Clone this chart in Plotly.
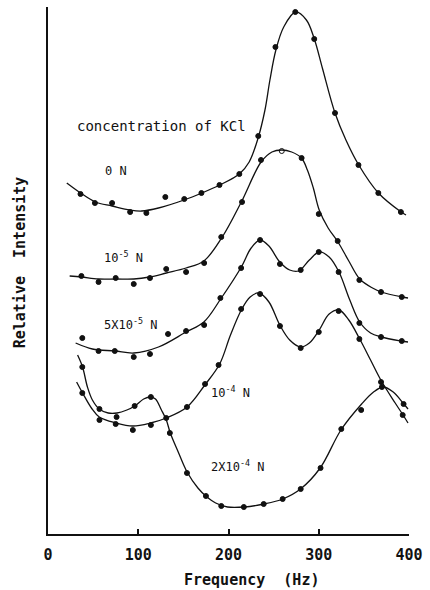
import plotly.graph_objects as go

# Frequency axis ticks
tick_vals = [0, 100, 200, 300, 400]
tick_text = ["0", "100", "200", "300", "400"]

# ---- measured points (Hz, relative intensity, arbitrary units) ----
hz_0N = [36, 52, 71, 91, 109, 130, 151, 170, 190, 212, 233, 252, 274, 295, 318, 344, 366, 391]
int_0N = [68.0, 66.2, 66.2, 64.4, 64.2, 67.4, 67.0, 68.2, 69.8, 72.0, 79.6, 97.4, 104.4, 99.0, 84.2, 73.8, 68.2, 64.4]

hz_1e5 = [37, 56, 75, 95, 113, 131, 153, 173, 192, 215, 236, 259, 281, 300, 321, 345, 369, 392]
int_1e5 = [51.6, 50.4, 51.2, 50.0, 51.2, 53.0, 52.4, 54.2, 59.4, 66.4, 74.8, 76.6, 75.2, 64.0, 58.6, 50.8, 48.4, 47.4]

hz_5e5 = [38, 56, 74, 95, 113, 133, 153, 173, 191, 214, 235, 257, 280, 300, 322, 345, 369, 392]
int_5e5 = [39.2, 36.6, 36.6, 35.4, 36.0, 40.0, 40.6, 41.8, 47.2, 53.2, 58.8, 54.0, 52.8, 56.4, 52.4, 42.2, 39.4, 38.6]

hz_1e4 = [38, 57, 75, 94, 114, 131, 154, 174, 189, 214, 235, 257, 280, 300, 322, 345, 369, 393]
int_1e4 = [28.2, 22.8, 22.0, 20.8, 21.8, 23.2, 25.4, 30.0, 33.8, 45.0, 48.0, 41.6, 37.2, 40.4, 44.6, 39.0, 30.4, 23.8]

hz_2e4 = [38, 57, 76, 96, 114, 135, 154, 175, 192, 217, 239, 260, 280, 302, 325, 347, 370, 394]
int_2e4 = [33.4, 25.0, 23.4, 25.6, 27.4, 20.2, 12.2, 7.6, 5.6, 5.4, 6.0, 7.0, 9.0, 13.2, 21.0, 24.8, 29.4, 26.0]

# ---- hand-drawn smooth curves through each data set ----
fit_hz_0N = [20.8, 36.1, 52.5, 71.0, 90.7, 103.8, 122.4, 150.8, 170.5, 190.2, 212.0, 222.9, 232.8,
             240.4, 245.9, 252.5, 261.2, 274.3, 286.3, 295.1, 304.0, 318.0, 330.1, 344.3,
             366.1, 391.3, 396.7]
fit_int_0N = [70.2, 68.2, 66.4, 65.6, 64.8, 64.6, 65.2, 66.8, 68.2, 69.8, 72.0, 74.4, 79.2,
              84.8, 90.8, 96.8, 101.4, 104.4, 102.8, 99.0, 93.2, 84.2, 78.8, 73.8,
              68.2, 64.4, 63.8]

fit_hz_1e5 = [24.0, 37.2, 55.7, 75.4, 95.1, 112.6, 131.1, 153.0, 172.7, 192.4, 214.2, 236.1, 248.1,
              259.0, 270.0, 280.9, 287.4, 294.0, 300.5, 310.4, 321.3, 333.3, 345.4, 359.6, 369.4,
              392.4, 398.9]
fit_int_1e5 = [51.6, 51.4, 51.0, 51.0, 51.0, 51.4, 52.2, 53.2, 54.6, 59.2, 66.4, 74.4, 76.4,
               76.8, 76.4, 75.2, 72.8, 69.2, 64.8, 61.2, 58.4, 54.6, 51.0, 49.2, 48.4,
               47.4, 47.2]

fit_hz_5e5 = [30.6, 49.2, 74.3, 95.1, 122.4, 153.0, 172.7, 191.3, 214.2, 225.1, 235.0, 244.8, 256.8,
              267.8, 277.6, 289.6, 300.5, 311.5, 322.4, 334.4, 345.4, 357.4, 369.4, 391.3, 398.9]
fit_int_5e5 = [38.2, 37.0, 36.6, 36.2, 37.4, 40.4, 42.4, 47.0, 53.4, 57.2, 58.8, 57.6, 54.4,
               52.8, 52.6, 54.8, 56.4, 55.4, 52.4, 46.8, 42.4, 40.2, 39.4, 38.6, 38.4]

fit_hz_1e4 = [31.7, 38.3, 48.1, 56.8, 75.4, 94.0, 113.7, 131.1, 154.1, 173.8, 190.2, 202.2, 214.2,
              224.0, 233.9, 244.8, 256.8, 267.8, 279.8, 289.6, 300.5, 311.5, 322.4, 333.3, 345.4,
              357.4, 369.4, 384.7, 393.4, 398.9]
fit_int_1e4 = [30.4, 28.2, 25.2, 23.4, 22.2, 21.6, 22.2, 23.2, 25.4, 29.8, 34.0, 39.8, 44.8,
               47.4, 48.2, 46.4, 41.8, 38.8, 37.4, 38.2, 40.8, 44.0, 44.8, 42.8, 39.0,
               34.8, 30.6, 26.2, 23.8, 22.2]

fit_hz_2e4 = [32.8, 38.3, 43.7, 49.2, 56.8, 66.7, 76.5, 87.4, 96.2, 106.0, 113.7, 119.1, 125.7,
              131.1, 135.5, 144.3, 154.1, 166.1, 174.9, 185.8, 198.9, 217.5, 239.3, 260.1, 279.8,
              301.6, 324.6, 347.5, 360.7, 371.6, 382.5, 393.4, 398.9]
fit_int_2e4 = [35.8, 33.4, 29.4, 26.8, 25.0, 24.2, 24.2, 24.8, 25.6, 27.0, 27.4, 27.0, 24.8,
               22.8, 20.2, 16.4, 12.4, 9.2, 7.6, 6.2, 5.4, 5.4, 6.0, 7.0, 9.0,
               13.2, 20.8, 26.0, 28.4, 29.4, 28.4, 26.2, 25.0]

series = [
    (fit_hz_0N, fit_int_0N, hz_0N, int_0N),
    (fit_hz_1e5, fit_int_1e5, hz_1e5, int_1e5),
    (fit_hz_5e5, fit_int_5e5, hz_5e5, int_5e5),
    (fit_hz_1e4, fit_int_1e4, hz_1e4, int_1e4),
    (fit_hz_2e4, fit_int_2e4, hz_2e4, int_2e4),
]

INK = "#111111"
MONO = "DejaVu Sans Mono"

fig = go.Figure()
for i, (fx, fy, px, py) in enumerate(series):
    fig.add_trace(go.Scatter(
        x=fx, y=fy, mode="lines",
        line=dict(color=INK, width=1.3, shape="spline", smoothing=1.0),
        hoverinfo="skip", showlegend=False,
    ))
    symbols = ["circle"] * len(px)
    if i == 1:
        symbols[11] = "circle-open"  # open marker at the 1e-5 N maximum
    fig.add_trace(go.Scatter(
        x=px, y=py, mode="markers",
        marker=dict(color=INK, size=5, symbol=symbols, line=dict(color=INK, width=1)),
        showlegend=False,
    ))

# curve labels
labels = [
    ("concentration of KCl", 125.7, 81.6, 14),
    ("0 N", 75.4, 72.6, 12),
    ("10<sup>-5</sup> N", 84.2, 55.4, 12),
    ("5X10<sup>-5</sup> N", 91.8, 42.0, 12),
    ("10<sup>-4</sup> N", 202.2, 28.4, 12),
    ("2X10<sup>-4</sup> N", 209.8, 13.6, 12),
]
for text, x, y, size in labels:
    fig.add_annotation(x=x, y=y, text=text, showarrow=False,
                       xanchor="center", yanchor="middle",
                       font=dict(family=MONO, size=size, color=INK))

# axis titles (placed in paper coordinates, outside the plot area)
fig.add_annotation(x=0.563, y=-0.087, xref="paper", yref="paper",
                   text="Frequency  (Hz)", showarrow=False,
                   xanchor="center", yanchor="middle",
                   font=dict(family=MONO, size=15, color=INK, weight="bold"))
fig.add_annotation(x=-0.077, y=0.516, xref="paper", yref="paper",
                   text="Relative  Intensity", showarrow=False,
                   textangle=-90, xanchor="center", yanchor="middle",
                   font=dict(family=MONO, size=15, color=INK, weight="bold"))

fig.update_xaxes(
    range=[0, 400], tickvals=tick_vals, ticktext=tick_text,
    showline=True, linecolor=INK, linewidth=1.5,
    ticks="inside", ticklen=5, tickwidth=1.5, tickcolor=INK,
    showgrid=False, zeroline=False, ticklabelstandoff=6,
    tickfont=dict(family=MONO, size=15, color=INK, weight="bold"),
)
fig.update_yaxes(
    range=[0, 105.4], showline=True, linecolor=INK, linewidth=2,
    showticklabels=False, ticks="", showgrid=False, zeroline=False,
)
fig.update_layout(
    width=430, height=590,
    margin=dict(l=48, r=16, t=7, b=56),
    paper_bgcolor="white", plot_bgcolor="white",
)

fig.write_html("out.html")
